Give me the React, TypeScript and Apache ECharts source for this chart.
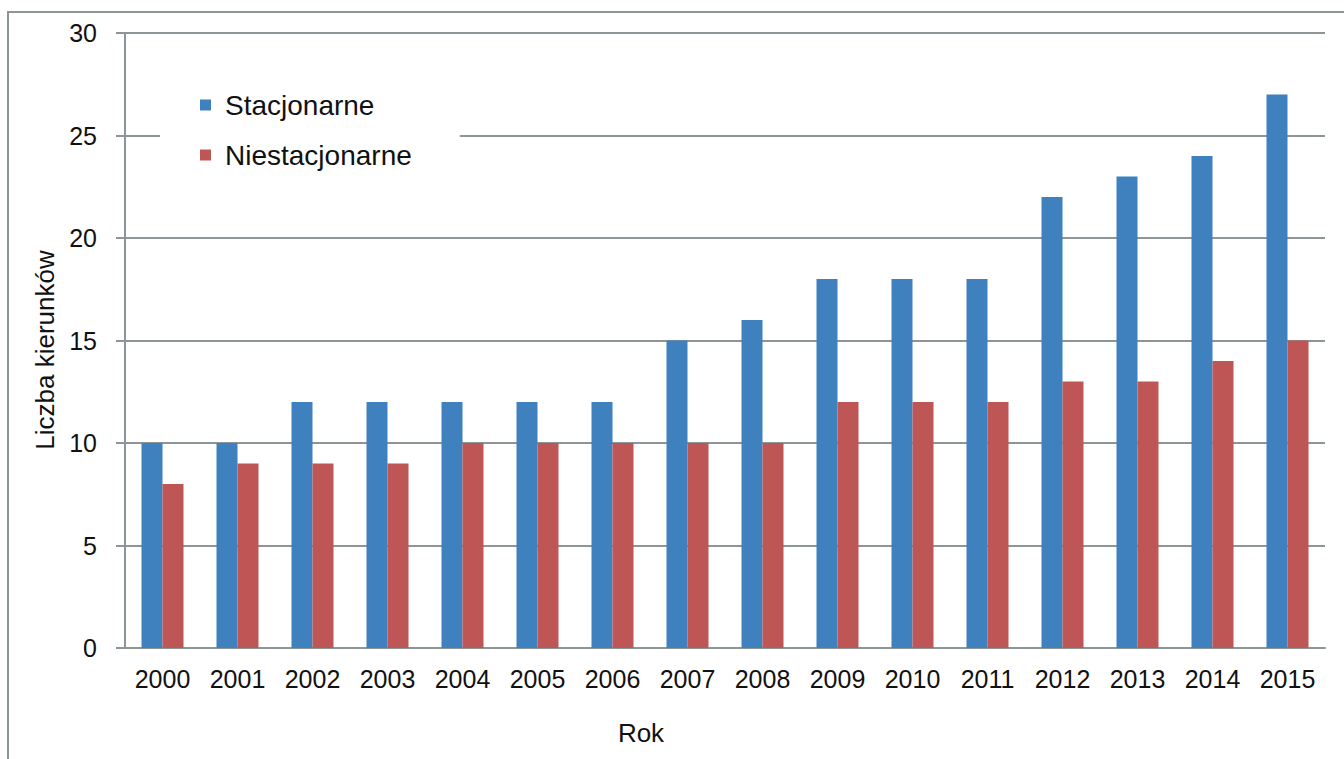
import React, { useEffect, useRef } from "react";
import * as echarts from "echarts";

const years = ["2000", "2001", "2002", "2003", "2004", "2005", "2006", "2007", "2008", "2009", "2010", "2011", "2012", "2013", "2014", "2015"];
const stacjonarne = [10, 10, 12, 12, 12, 12, 12, 15, 16, 18, 18, 18, 22, 23, 24, 27];
const niestacjonarne = [8, 9, 9, 9, 10, 10, 10, 10, 10, 12, 12, 12, 13, 13, 14, 15];
const seriesNames = ["Stacjonarne", "Niestacjonarne"];
const yTitle = "Liczba kierunków";
const xTitle = "Rok";

const FONT = "'Liberation Sans', Arial, sans-serif";
const GRID_COLOR = "#8E9598";

export default function App() {
  const ref = useRef<HTMLDivElement>(null);
  useEffect(() => {
    if (!ref.current) return;
    const chart = echarts.init(ref.current, null, { renderer: "svg" });
    chart.setOption({
      animation: false,
      backgroundColor: "#ffffff",
      textStyle: { fontFamily: FONT },
      graphic: [
        {
          type: "rect",
          shape: { x: 8, y: 12, width: 1400, height: 800 },
          style: { fill: "none", stroke: GRID_COLOR, lineWidth: 2 },
          z: -1,
        },
        {
          type: "text",
          x: 45,
          y: 350,
          rotation: Math.PI / 2,
          style: {
            text: yTitle,
            font: `26px ${FONT}`,
            fill: "#111",
            align: "center",
            verticalAlign: "middle",
          },
        },
        {
          type: "text",
          x: 641,
          y: 733,
          style: {
            text: xTitle,
            font: `26px ${FONT}`,
            fill: "#111",
            align: "center",
            verticalAlign: "middle",
          },
        },
      ],
      grid: { left: 125, right: 19, top: 33, bottom: 111, containLabel: false },
      legend: {
        orient: "vertical",
        left: 160,
        top: 83,
        data: seriesNames,
        backgroundColor: "#ffffff",
        padding: [8, 48, 8, 40],
        itemWidth: 11,
        itemHeight: 11,
        itemGap: 22,
        icon: "rect",
        textStyle: { fontSize: 28, color: "#111", fontFamily: FONT, padding: [0, 0, 0, 9] },
        z: 10,
      },
      xAxis: {
        type: "category",
        data: years,
        axisLine: { show: true, lineStyle: { color: GRID_COLOR, width: 2 } },
        axisTick: { show: false },
        axisLabel: { fontSize: 25, color: "#111", margin: 18, interval: 0, fontFamily: FONT },
      },
      yAxis: {
        type: "value",
        min: 0,
        max: 30,
        interval: 5,
        axisLine: { show: true, lineStyle: { color: GRID_COLOR, width: 2 } },
        axisTick: { show: true, length: 9, lineStyle: { color: GRID_COLOR, width: 2 } },
        axisLabel: { fontSize: 25, color: "#111", margin: 28, fontFamily: FONT },
        splitLine: { show: true, lineStyle: { color: GRID_COLOR, width: 2 } },
      },
      series: [
        {
          name: seriesNames[0],
          type: "bar",
          data: stacjonarne,
          itemStyle: { color: "#3F80BF" },
          barGap: "0%",
          barCategoryGap: "44%",
        },
        {
          name: seriesNames[1],
          type: "bar",
          data: niestacjonarne,
          itemStyle: { color: "#BE5656" },
          barGap: "0%",
          barCategoryGap: "44%",
        },
      ],
    });
    return () => chart.dispose();
  }, []);
  return (
    <div
      ref={ref}
      style={{ position: "fixed", left: 0, top: 0, width: 1344, height: 759 }}
    />
  );
}
